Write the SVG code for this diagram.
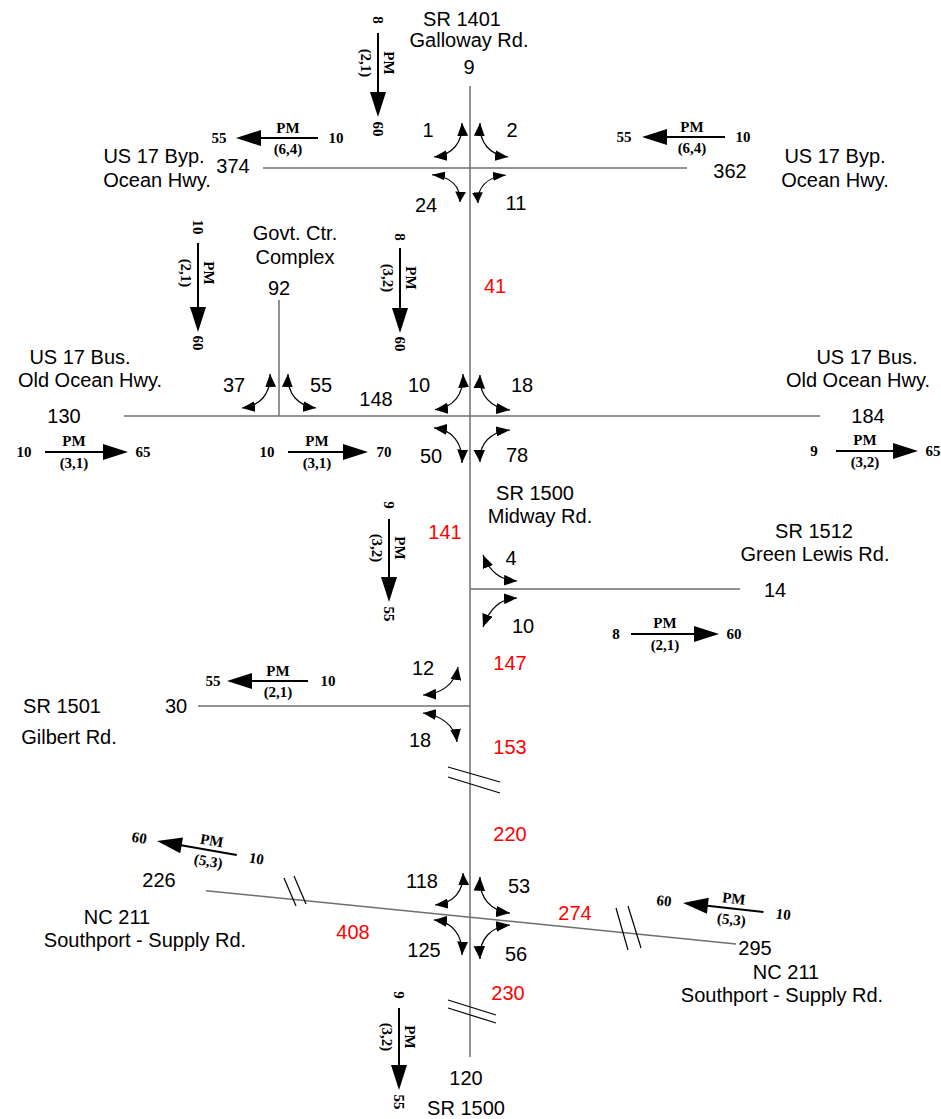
<svg xmlns="http://www.w3.org/2000/svg" xmlns:xlink="http://www.w3.org/1999/xlink" width="941" height="1119" viewBox="0 0 941 1119">
<style>
.t{font-family:"Liberation Sans",Arial,sans-serif;font-size:20px;text-anchor:middle;fill:#000}
.r{fill:#f00}
.p{font-family:"Liberation Serif","Times New Roman",serif;font-weight:bold;font-size:15px;text-anchor:middle;dominant-baseline:central;fill:#000}
.road{stroke:#6e6e6e;stroke-width:1.5;fill:none}
.brk{stroke:#000;stroke-width:1.2;fill:none}
.tm{stroke:#000;stroke-width:1.2;fill:none;marker-start:url(#ah);marker-end:url(#ah)}
.shaft{stroke:#000;stroke-width:2}
</style>
<defs>
<marker id="ah" viewBox="0 0 12 10" refX="12" refY="5" markerWidth="13" markerHeight="11" orient="auto-start-reverse" markerUnits="userSpaceOnUse"><path d="M0,0 L12,5 L0,10 z" fill="#000"/></marker>
<path id="tmNW" class="tm" d="M0,0 C1,20 -10,32 -28,34"/>
</defs>
<rect width="941" height="1119" fill="#fff"/>
<g id="roads">
<line class="road" x1="470" y1="86" x2="470" y2="1057"/>
<line class="road" x1="263" y1="168" x2="687" y2="168"/>
<line class="road" x1="124" y1="416" x2="820" y2="416"/>
<line class="road" x1="279" y1="300" x2="279" y2="416"/>
<line class="road" x1="470" y1="589" x2="740" y2="589"/>
<line class="road" x1="198" y1="706" x2="470" y2="706"/>
<line class="road" x1="206" y1="890.7" x2="736" y2="944"/>
</g>
<g id="breaks">
<line class="brk" x1="448" y1="767" x2="500" y2="782"/>
<line class="brk" x1="448" y1="777" x2="500" y2="793"/>
<line class="brk" x1="448" y1="1000" x2="496" y2="1015"/>
<line class="brk" x1="448" y1="1008" x2="496" y2="1023"/>
<line class="brk" x1="284" y1="878" x2="296" y2="906"/>
<line class="brk" x1="294" y1="876" x2="306" y2="904"/>
<line class="brk" x1="616" y1="908" x2="628" y2="950"/>
<line class="brk" x1="628" y1="906" x2="641" y2="948"/>
</g>
<g id="connectors">
<use xlink:href="#tmNW" transform="translate(462,123)"/>
<use xlink:href="#tmNW" transform="translate(480,123) scale(-1,1)"/>
<use xlink:href="#tmNW" transform="translate(460,202) scale(1,-0.8)"/>
<use xlink:href="#tmNW" transform="translate(478,203) scale(-1,-0.82)"/>
<use xlink:href="#tmNW" transform="translate(463,374) scale(1,1.05)"/>
<use xlink:href="#tmNW" transform="translate(480,375) scale(-1.07,1.03)"/>
<use xlink:href="#tmNW" transform="translate(462,463) scale(1,-1.03)"/>
<use xlink:href="#tmNW" transform="translate(480,462) scale(-1.07,-0.94)"/>
<use xlink:href="#tmNW" transform="translate(270,374)"/>
<use xlink:href="#tmNW" transform="translate(288,374) scale(-1,1)"/>
<path class="tm" d="M483,555 C490,572 500,580 517,581"/>
<path class="tm" d="M517,598 C500,599 490,608 483,627"/>
<path class="tm" d="M458,667 C455,685 440,694 423,695"/>
<path class="tm" d="M423,713 C440,715 455,725 457,742"/>
<use xlink:href="#tmNW" transform="translate(463,873) scale(1,0.94)"/>
<use xlink:href="#tmNW" transform="translate(480,877) scale(-1.07,1.06)"/>
<use xlink:href="#tmNW" transform="translate(462,955) scale(1,-1.03)"/>
<use xlink:href="#tmNW" transform="translate(480,959) scale(-1.07,-1)"/>
</g>
<g id="pm-indicators">
<g id="v1" transform="translate(378,33) rotate(90)"><line class="shaft" x1="0" y1="0" x2="60" y2="0"/><polygon points="84,0 59,-8 59,8"/><text class="p" x="-13" y="0">8</text><text class="p" x="96" y="0">60</text><text class="p" x="30" y="-11">PM</text><text class="p" x="30" y="12">(2,1)</text></g>
<g id="v2" transform="translate(198,243) rotate(90)"><line class="shaft" x1="0" y1="0" x2="65" y2="0"/><polygon points="89,0 64,-8 64,8"/><text class="p" x="-16" y="0">10</text><text class="p" x="100" y="0">60</text><text class="p" x="30" y="-11">PM</text><text class="p" x="30" y="12">(2,1)</text></g>
<g id="v3" transform="translate(400,248) rotate(90)"><line class="shaft" x1="0" y1="0" x2="60" y2="0"/><polygon points="85,0 60,-8 60,8"/><text class="p" x="-11" y="0">8</text><text class="p" x="96" y="0">60</text><text class="p" x="30" y="-11">PM</text><text class="p" x="30" y="12">(3,2)</text></g>
<g id="v4" transform="translate(389,519) rotate(90)"><line class="shaft" x1="0" y1="0" x2="60" y2="0"/><polygon points="83,0 58,-8 58,8"/><text class="p" x="-14" y="0">9</text><text class="p" x="95" y="0">55</text><text class="p" x="29" y="-11">PM</text><text class="p" x="29" y="12">(3,2)</text></g>
<g id="v5" transform="translate(399,1008) rotate(90)"><line class="shaft" x1="0" y1="0" x2="60" y2="0"/><polygon points="82,0 57,-8 57,8"/><text class="p" x="-13" y="0">9</text><text class="p" x="94" y="0">55</text><text class="p" x="29" y="-11">PM</text><text class="p" x="29" y="12">(3,2)</text></g>
<g id="h1" transform="translate(45,452)"><line class="shaft" x1="0" y1="0" x2="60" y2="0"/><polygon points="83,0 58,-8 58,8"/><text class="p" x="-21" y="0">10</text><text class="p" x="98" y="0">65</text><text class="p" x="29" y="-11">PM</text><text class="p" x="29" y="11">(3,1)</text></g>
<g id="h2" transform="translate(288,452)"><line class="shaft" x1="0" y1="0" x2="58" y2="0"/><polygon points="80,0 55,-8 55,8"/><text class="p" x="-21" y="0">10</text><text class="p" x="96" y="0">70</text><text class="p" x="29" y="-11">PM</text><text class="p" x="29" y="11">(3,1)</text></g>
<g id="h3" transform="translate(836,451)"><line class="shaft" x1="0" y1="0" x2="60" y2="0"/><polygon points="82,0 57,-8 57,8"/><text class="p" x="-22" y="0">9</text><text class="p" x="97" y="0">65</text><text class="p" x="29" y="-11">PM</text><text class="p" x="29" y="11">(3,2)</text></g>
<g id="h4" transform="translate(631,634)"><line class="shaft" x1="0" y1="0" x2="65" y2="0"/><polygon points="88,0 63,-8 63,8"/><text class="p" x="-15" y="0">8</text><text class="p" x="103" y="0">60</text><text class="p" x="34" y="-11">PM</text><text class="p" x="34" y="11">(2,1)</text></g>
<g id="l1" transform="translate(236,138)"><line class="shaft" x1="20" y1="0" x2="82" y2="0"/><polygon points="0,0 25,-8 25,8"/><text class="p" x="-17" y="0">55</text><text class="p" x="100" y="0">10</text><text class="p" x="52" y="-10">PM</text><text class="p" x="52" y="11">(6,4)</text></g>
<g id="l2" transform="translate(642,137)"><line class="shaft" x1="20" y1="0" x2="83" y2="0"/><polygon points="0,0 25,-8 25,8"/><text class="p" x="-18" y="0">55</text><text class="p" x="101" y="0">10</text><text class="p" x="50" y="-10">PM</text><text class="p" x="50" y="11">(6,4)</text></g>
<g id="l3" transform="translate(227,681)"><line class="shaft" x1="20" y1="0" x2="81" y2="0"/><polygon points="0,0 25,-8 25,8"/><text class="p" x="-14" y="0">55</text><text class="p" x="101" y="0">10</text><text class="p" x="51" y="-10">PM</text><text class="p" x="51" y="11">(2,1)</text></g>
<g id="s1" transform="translate(157,841) rotate(10)"><line class="shaft" x1="20" y1="0" x2="81" y2="0"/><polygon points="0,0 25,-8 25,8"/><text class="p" x="-18" y="0">60</text><text class="p" x="101" y="0">10</text><text class="p" x="54" y="-10">PM</text><text class="p" x="54" y="11">(5,3)</text></g>
<g id="s2" transform="translate(683,903) rotate(6.4)"><line class="shaft" x1="20" y1="0" x2="81" y2="0"/><polygon points="0,0 25,-8 25,8"/><text class="p" x="-19" y="0">60</text><text class="p" x="101" y="0">10</text><text class="p" x="50" y="-10">PM</text><text class="p" x="50" y="11">(5,3)</text></g>
</g>
<g id="labels">
<text class="t" x="462" y="26">SR 1401</text>
<text class="t" x="469" y="46.5">Galloway Rd.</text>
<text class="t" x="469" y="74">9</text>
<text class="t" x="428" y="137">1</text>
<text class="t" x="512" y="137">2</text>
<text class="t" x="426" y="212">24</text>
<text class="t" x="516" y="210">11</text>
<text class="t" x="154" y="163">US 17 Byp.</text>
<text class="t" x="157" y="187">Ocean Hwy.</text>
<text class="t" x="233" y="173">374</text>
<text class="t" x="730" y="178">362</text>
<text class="t" x="835" y="163">US 17 Byp.</text>
<text class="t" x="835" y="187">Ocean Hwy.</text>
<text class="t" x="295" y="240">Govt. Ctr.</text>
<text class="t" x="295" y="264">Complex</text>
<text class="t" x="279" y="295">92</text>
<text class="t r" x="495" y="293">41</text>
<text class="t" x="80" y="364">US 17 Bus.</text>
<text class="t" x="90" y="387">Old Ocean Hwy.</text>
<text class="t" x="64" y="423">130</text>
<text class="t" x="867" y="364">US 17 Bus.</text>
<text class="t" x="858" y="387">Old Ocean Hwy.</text>
<text class="t" x="868" y="423">184</text>
<text class="t" x="234" y="392">37</text>
<text class="t" x="321" y="392">55</text>
<text class="t" x="376" y="406">148</text>
<text class="t" x="419" y="392">10</text>
<text class="t" x="522" y="392">18</text>
<text class="t" x="431" y="463">50</text>
<text class="t" x="517" y="462">78</text>
<text class="t" x="535" y="500">SR 1500</text>
<text class="t" x="540" y="523">Midway Rd.</text>
<text class="t r" x="445" y="539">141</text>
<text class="t" x="814" y="538">SR 1512</text>
<text class="t" x="815" y="561">Green Lewis Rd.</text>
<text class="t" x="775" y="597">14</text>
<text class="t" x="511" y="565">4</text>
<text class="t" x="523" y="633">10</text>
<text class="t r" x="510" y="670">147</text>
<text class="t" x="423" y="675">12</text>
<text class="t" x="420" y="747">18</text>
<text class="t" x="62" y="713">SR 1501</text>
<text class="t" x="176" y="713">30</text>
<text class="t" x="69" y="744">Gilbert Rd.</text>
<text class="t r" x="510" y="754">153</text>
<text class="t r" x="510" y="841">220</text>
<text class="t" x="422" y="888">118</text>
<text class="t" x="519" y="893">53</text>
<text class="t" x="424" y="957">125</text>
<text class="t" x="516" y="961">56</text>
<text class="t" x="159" y="887">226</text>
<text class="t" x="117" y="924">NC 211</text>
<text class="t" x="145" y="947">Southport - Supply Rd.</text>
<text class="t r" x="353" y="939">408</text>
<text class="t r" x="575" y="920">274</text>
<text class="t" x="755" y="955">295</text>
<text class="t" x="786" y="979">NC 211</text>
<text class="t" x="782" y="1002">Southport - Supply Rd.</text>
<text class="t r" x="508" y="1000">230</text>
<text class="t" x="466" y="1085">120</text>
<text class="t" x="466" y="1115">SR 1500</text>
</g>
</svg>
